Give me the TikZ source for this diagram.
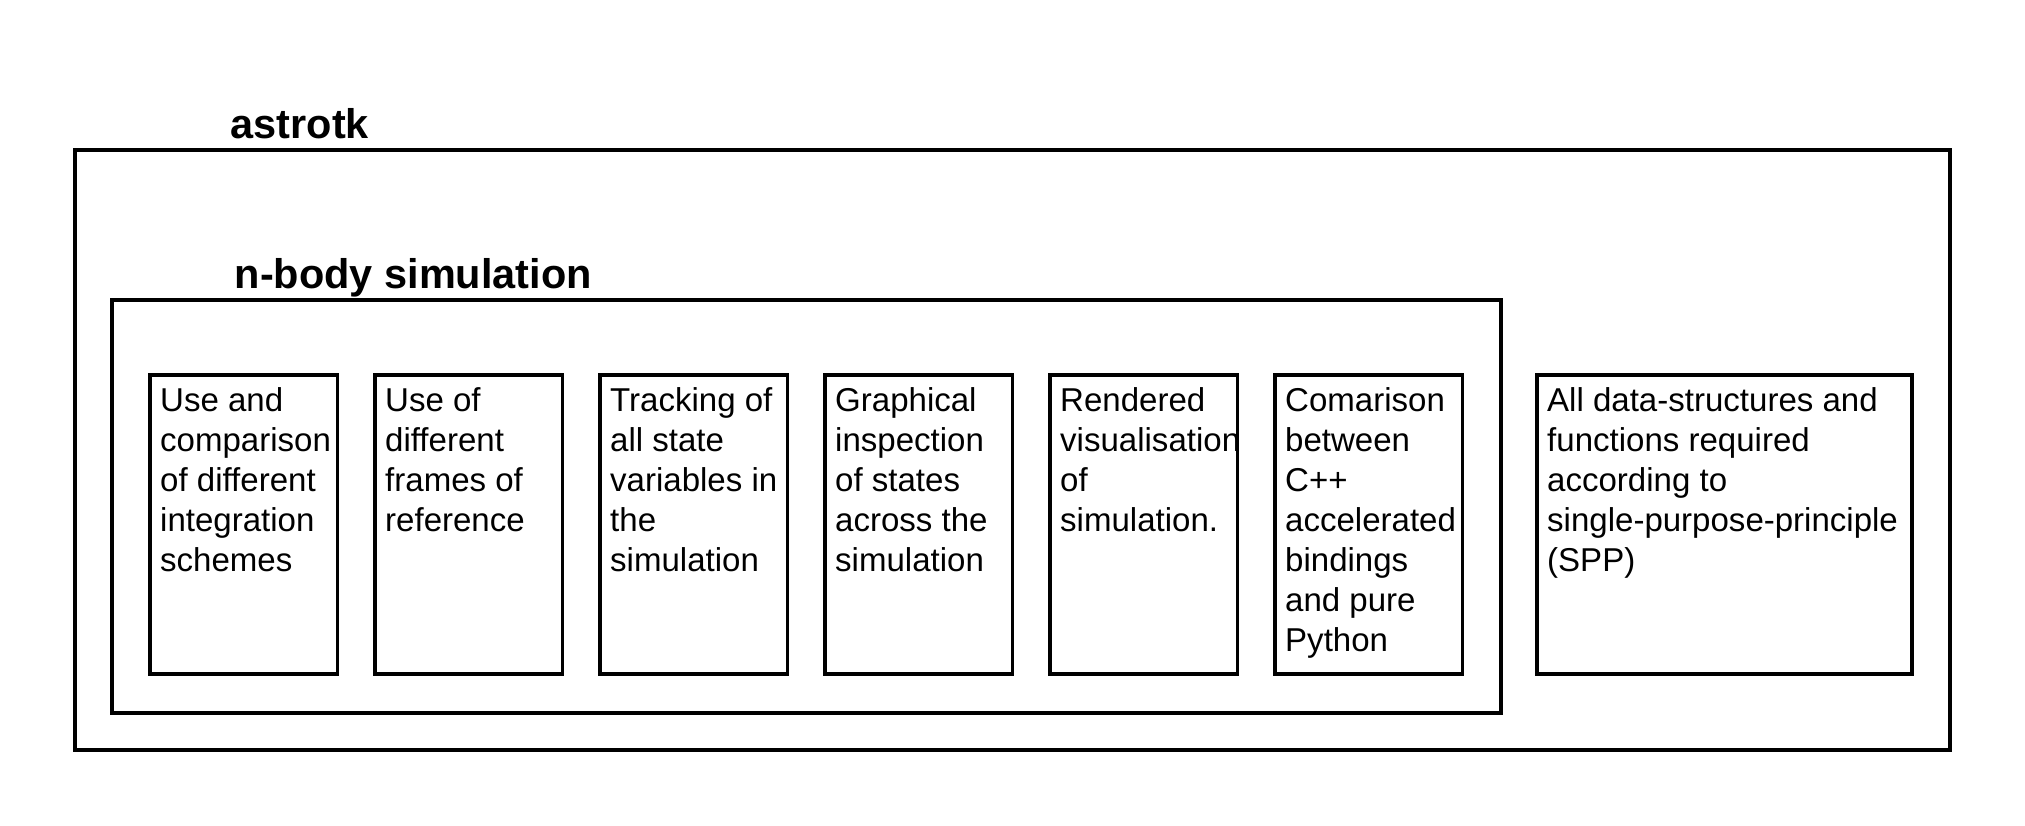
\documentclass[tikz,border=0pt]{standalone}
\usepackage{fontspec}
\setmainfont{Liberation Sans}
\usetikzlibrary{positioning}
\tikzset{
  frame/.style={line width=0.9pt},
  grouptitle/.style={anchor=base west, inner sep=0pt, font=\bfseries\fontsize{11.8pt}{14pt}\selectfont},
  boxtext/.style={anchor=north west, inner sep=0pt, align=left, font=\fontsize{9.4pt}{11.38pt}\selectfont},
}
\begin{document}
\begin{tikzpicture}
\useasboundingbox (0,0) rectangle (20.25,8.25);
% astrotk package
\draw[frame] (0.75,0.75) rectangle (19.5,6.75);
\node[grouptitle] (astrotk) at (2.30,6.86) {astrotk};

% n-body simulation module
\draw[frame] (1.12,1.12) rectangle (15.01,5.25);
\node[grouptitle] (nbody) at (2.34,5.36) {n-body simulation};

% feature boxes
\foreach \i/\txt in {0/{Use and\\comparison\\of different\\integration\\schemes},
                     1/{Use of\\different\\frames of\\reference},
                     2/{Tracking of\\all state\\variables in\\the\\simulation},
                     3/{Graphical\\inspection\\of states\\across the\\simulation},
                     4/{Rendered\\visualisation\\of\\simulation.},
                     5/{Comarison\\between\\C++\\accelerated\\bindings\\and pure\\Python}} {
  \draw[frame] (1.50+\i*2.25,1.51) rectangle ++(1.875,2.99);
  \node[boxtext] (feat\i) at (1.595+\i*2.25,4.50) {\rule{0pt}{0.355cm}\txt};
}

% data structures
\draw[frame] (15.37,1.51) rectangle (19.12,4.50);
\node[boxtext] (spp) at (15.465,4.50) {\rule{0pt}{0.355cm}All data-structures and\\functions required\\according to\\single-purpose-principle\\(SPP)};
\end{tikzpicture}
\end{document}
